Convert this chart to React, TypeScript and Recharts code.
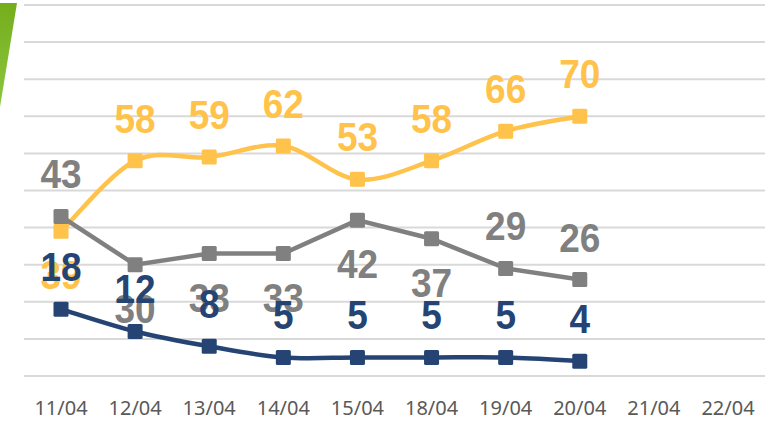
import React from 'react';
import { LineChart, Line, XAxis, YAxis, CartesianGrid, LabelList } from 'recharts';

const categories = ['11/04', '12/04', '13/04', '14/04', '15/04', '18/04', '19/04', '20/04', '21/04', '22/04'];
const yellowValues = [39, 58, 59, 62, 53, 58, 66, 70];
const grayValues = [43, 30, 33, 33, 42, 37, 29, 26];
const navyValues = [18, 12, 8, 5, 5, 5, 5, 4];
const yTicks = [0, 10, 20, 30, 40, 50, 60, 70, 80, 90, 100];

// label placement per point (layout, not data)
const yellowLabelPos = ['below', 'above', 'above', 'above', 'above', 'above', 'above', 'above'];
const grayLabelPos = ['above', 'below', 'below', 'below', 'below', 'below', 'above', 'above'];
const navyLabelPos = ['above', 'above', 'above', 'above', 'above', 'above', 'above', 'above'];

const YELLOW = '#FFC24A';
const GRAY = '#808080';
const NAVY = '#254473';

const data = categories.map((c, i) => ({
  cat: c,
  yellow: yellowValues[i] ?? null,
  gray: grayValues[i] ?? null,
  navy: navyValues[i] ?? null,
}));

// Catmull-Rom style smoothing (similar to Excel smoothed lines)
function smoothCurve(context: any) {
  let pts: number[][] = [];
  return {
    areaStart() {},
    areaEnd() {},
    lineStart() {
      pts = [];
    },
    lineEnd() {
      const n = pts.length;
      if (n === 0) return;
      context.moveTo(pts[0][0], pts[0][1]);
      for (let i = 0; i < n - 1; i++) {
        const p0 = pts[i - 1] || pts[i];
        const p1 = pts[i];
        const p2 = pts[i + 1];
        const p3 = pts[i + 2] || p2;
        context.bezierCurveTo(
          p1[0] + (p2[0] - p0[0]) / 6,
          p1[1] + (p2[1] - p0[1]) / 6,
          p2[0] - (p3[0] - p1[0]) / 6,
          p2[1] - (p3[1] - p1[1]) / 6,
          p2[0],
          p2[1]
        );
      }
    },
    point(x: number, y: number) {
      pts.push([+x, +y]);
    },
  };
}

const makeDot = (color: string) => (props: any) => {
  const { cx, cy, index } = props;
  if (cx == null || cy == null || props.value == null) return <g key={`d-${index}`} />;
  return <rect key={`d-${index}`} x={cx - 7.5} y={cy - 7.5} width={15} height={15} rx={1.5} fill={color} />;
};

const makeLabel = (color: string, pos: string[]) => (props: any) => {
  const { x, y, value, index } = props;
  if (value == null || x == null || y == null) return null;
  const p = pos[index] || 'above';
  const ty = p === 'above' ? y - 28 : y + 58;
  return (
    <text
      key={`l-${index}`}
      x={0}
      y={0}
      transform={`translate(${x},${ty}) scale(1,1.08)`}
      textAnchor="middle"
      fill={color}
      fontFamily="'Liberation Sans', Arial, sans-serif"
      fontWeight="bold"
      fontSize={37}
    >
      {value}
    </text>
  );
};

function Decoration() {
  return (
    <svg width={30} height={120} style={{ position: 'absolute', left: 0, top: 0 }}>
      <defs>
        <linearGradient id="greenGrad" x1="0" y1="0" x2="0" y2="1">
          <stop offset="0%" stopColor="#74AE1C" />
          <stop offset="100%" stopColor="#8CC63F" />
        </linearGradient>
      </defs>
      <polygon points="0,3 17,3 0,107" fill="url(#greenGrad)" />
    </svg>
  );
}

export default function App() {
  return (
    <div style={{ position: 'absolute', left: 0, top: 0, width: 783, height: 421, background: '#fff' }}>
      <LineChart width={783} height={421} data={data} margin={{ top: 5, right: 18, left: 24, bottom: 0 }}>
        <CartesianGrid vertical={false} stroke="#D9D9D9" strokeWidth={2} />
        <XAxis
          dataKey="cat"
          axisLine={false}
          tickLine={false}
          tickSize={0}
          tickMargin={25}
          height={45}
          interval={0}
          padding={{ left: 37, right: 37 }}
          tick={{ fill: '#595959', fontSize: 20, fontFamily: "'Noto Sans', sans-serif" }}
        />
        <YAxis hide width={0} domain={[0, 100]} ticks={yTicks} />
        <Line
          dataKey="yellow"
          type={smoothCurve as any}
          stroke={YELLOW}
          strokeWidth={4.5}
          dot={makeDot(YELLOW)}
          activeDot={false}
          isAnimationActive={false}
        >
          <LabelList dataKey="yellow" content={makeLabel(YELLOW, yellowLabelPos)} />
        </Line>
        <Line
          dataKey="gray"
          type="linear"
          stroke={GRAY}
          strokeWidth={4.5}
          dot={makeDot(GRAY)}
          activeDot={false}
          isAnimationActive={false}
        >
          <LabelList dataKey="gray" content={makeLabel(GRAY, grayLabelPos)} />
        </Line>
        <Line
          dataKey="navy"
          type={smoothCurve as any}
          stroke={NAVY}
          strokeWidth={4.5}
          dot={makeDot(NAVY)}
          activeDot={false}
          isAnimationActive={false}
        >
          <LabelList dataKey="navy" content={makeLabel(NAVY, navyLabelPos)} />
        </Line>
      </LineChart>
      <Decoration />
    </div>
  );
}
